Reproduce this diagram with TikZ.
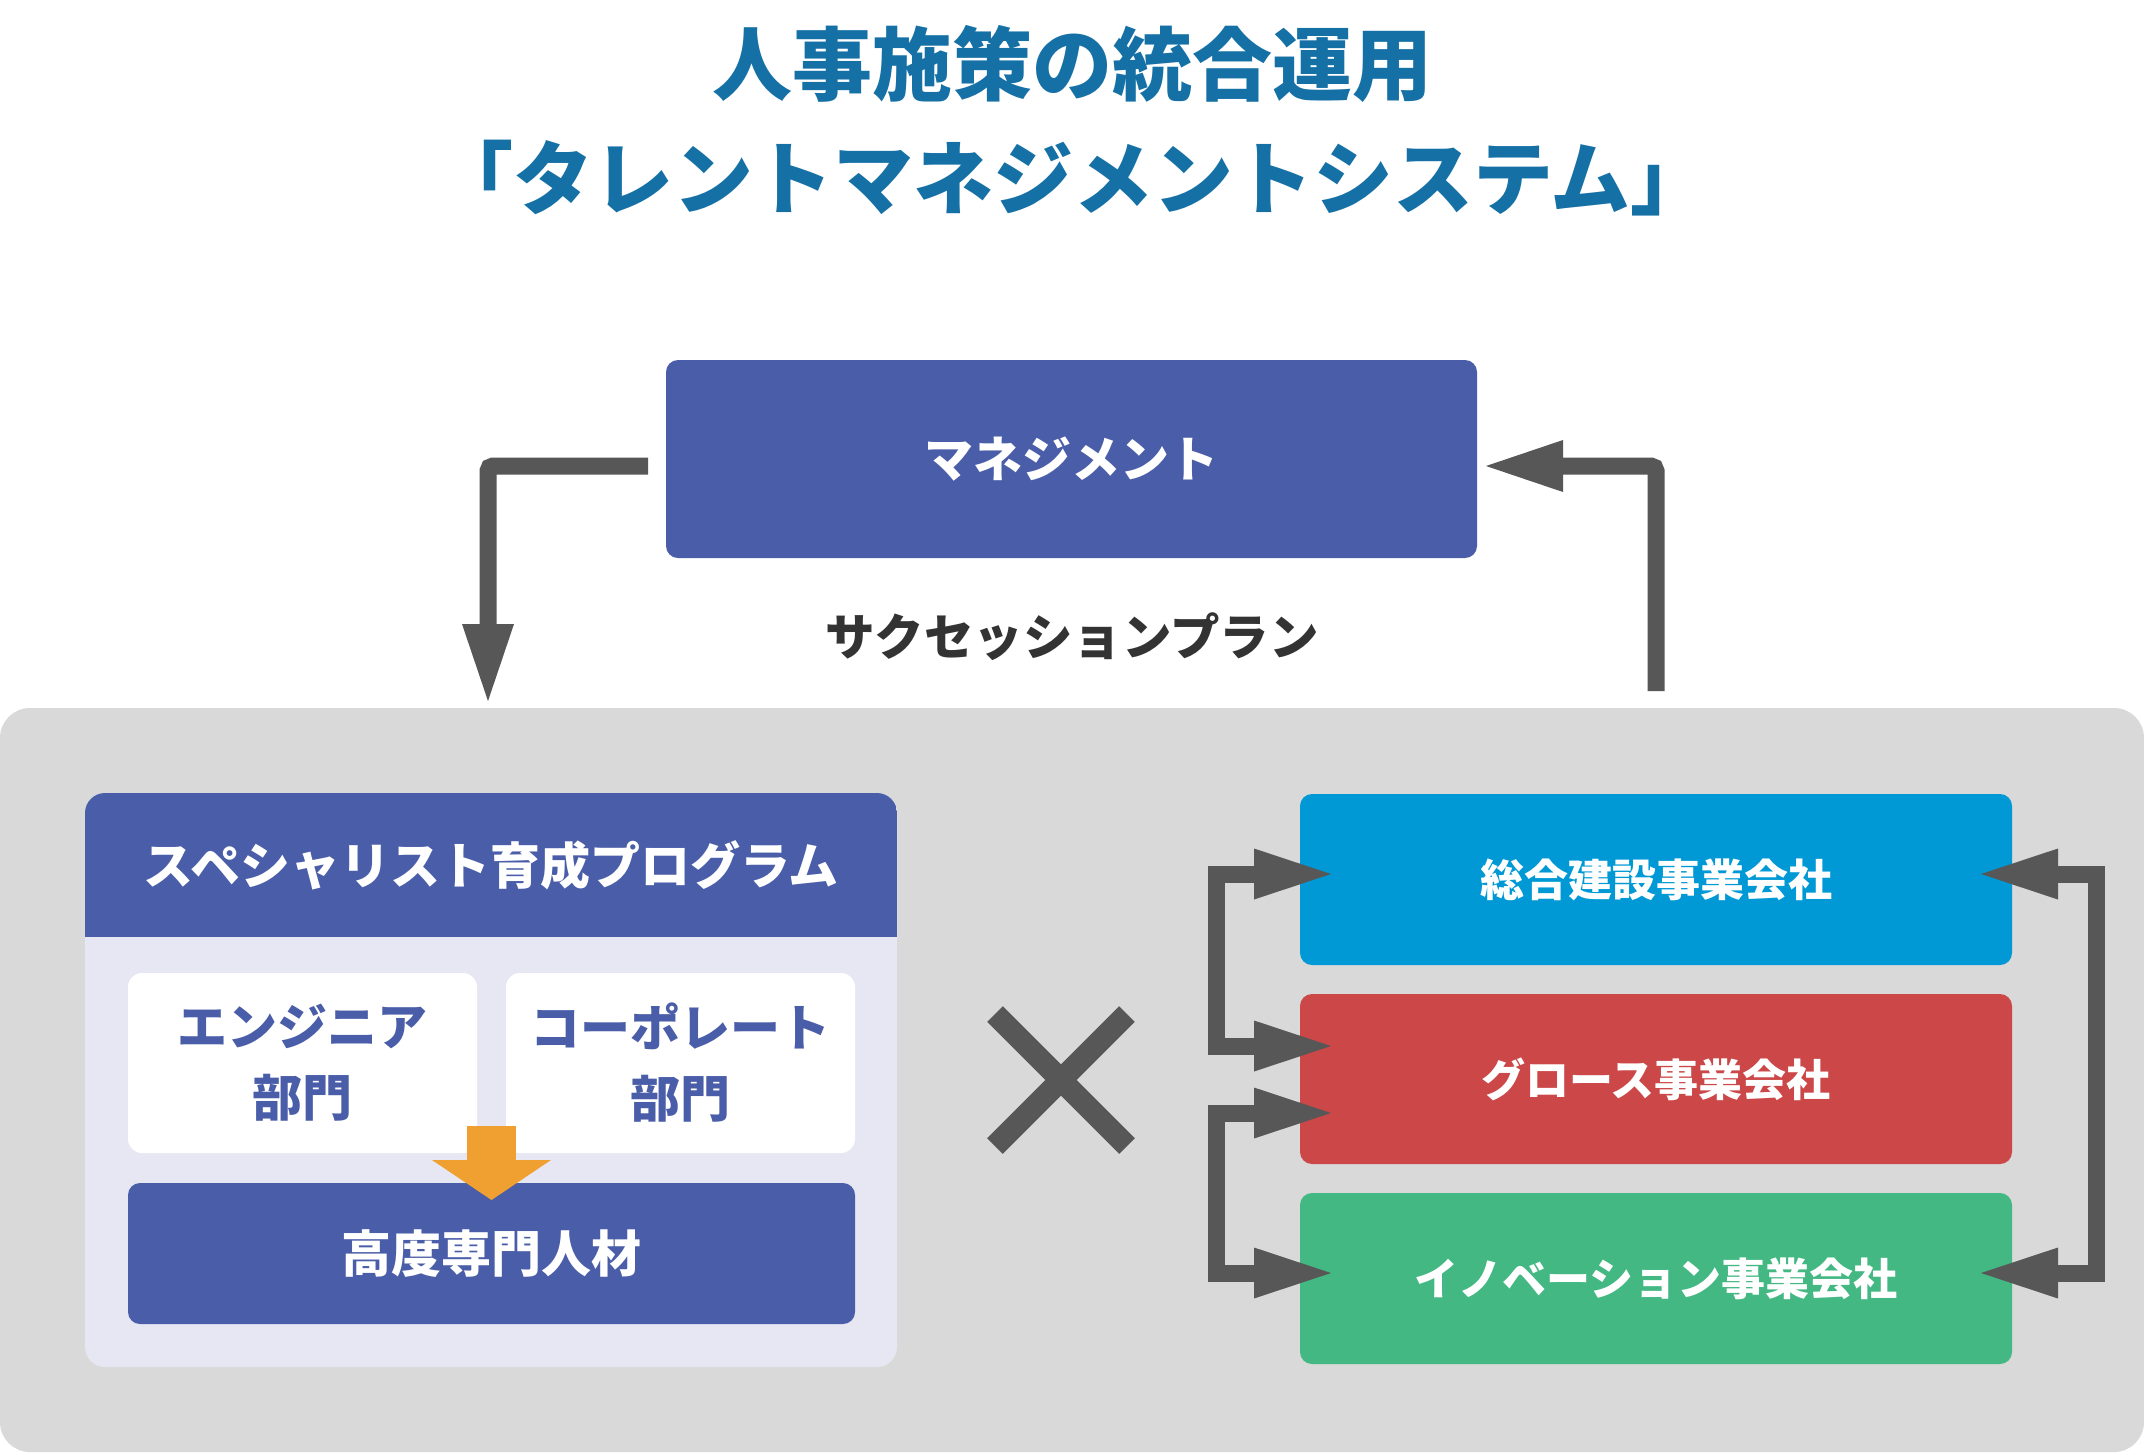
\documentclass[tikz,border=0pt]{standalone}
\usepackage{fontspec}
\setmainfont{Noto Sans CJK JP}
\usetikzlibrary{arrows.meta,calc}
\definecolor{titleblue}{HTML}{1570A6}
\definecolor{navy}{HTML}{4A5DA8}
\definecolor{lav}{HTML}{E6E7F3}
\definecolor{bggray}{HTML}{D9D9D9}
\definecolor{agray}{HTML}{575757}
\definecolor{cblue}{HTML}{0099D6}
\definecolor{cred}{HTML}{CB4748}
\definecolor{cgreen}{HTML}{43B883}
\definecolor{orng}{HTML}{F0A030}
\definecolor{txtdark}{HTML}{333333}
\begin{document}
\begin{tikzpicture}[x=1pt,y=-1pt,
  every node/.style={inner sep=0pt, outer sep=0pt},
  titletext/.style={text=titleblue, font=\bfseries\fontsize{80pt}{96pt}\selectfont},
  cbox/.style={rounded corners=12pt, text=white, minimum width=712pt, minimum height=171pt, font=\bfseries\fontsize{44pt}{52pt}\selectfont},
  wbox/.style={fill=white, rounded corners=14pt, minimum width=349pt, minimum height=180pt, text=navy, align=center, font=\bfseries\fontsize{50pt}{71pt}\selectfont},
  conn/.style={draw=agray, line width=17pt, rounded corners=5pt, -{Triangle[length=77pt,width=52pt,line width=0pt]}},
  bconn/.style={draw=agray, line width=17pt, line join=miter, {Triangle[length=77pt,width=51pt,line width=0pt]}-{Triangle[length=77pt,width=51pt,line width=0pt]}}
]
\useasboundingbox (0,0) rectangle (2144,1454);
\fill[white] (0,0) rectangle (2144,1454);
% title
\node[titletext] (t1) at (1072,64) {人事施策の統合運用};
\node[titletext] (t2) at (1072,178) {「タレントマネジメントシステム」};
% management
\node[fill=navy, rounded corners=12pt, minimum width=811pt, minimum height=198pt, text=white, font=\bfseries\fontsize{49pt}{56pt}\selectfont] (mgmt) at (1071.5,459) {マネジメント};
\node[text=txtdark, font=\bfseries\fontsize{49.5pt}{56pt}\selectfont] (succ) at (1072,637) {サクセッションプラン};
% gray background
\node[fill=bggray, rounded corners=30pt, minimum width=2144pt, minimum height=744pt] (bg) at (1072,1080) {};
% left panel
\node[fill=lav, rounded corners=20pt, minimum width=812pt, minimum height=574pt] (panel) at (491,1080) {};
\begin{scope}
\clip[rounded corners=20pt] (85,793) rectangle (897,1367);
\fill[navy] (85,793) rectangle (897,937);
\end{scope}
\node[text=white, font=\bfseries\fontsize{50pt}{56pt}\selectfont] (hdr) at (491,865) {スペシャリスト育成プログラム};
\node[wbox] (eng) at (302.5,1063) {エンジニア\\部門};
\node[wbox] (corp) at (680.5,1063) {コーポレート\\部門};
\node[fill=navy, rounded corners=12pt, minimum width=727pt, minimum height=141pt, text=white, font=\bfseries\fontsize{50pt}{56pt}\selectfont] (expert) at (491.5,1253.5) {高度専門人材};
\draw[orng, line width=49pt, -{Triangle[length=40pt,width=119pt,line width=0pt]}] ($(expert.north)+(0,-57)$) -- ($(expert.north)+(0,17)$);
% cross
\coordinate (cross) at (1061,1080);
\draw[agray, line width=22pt] ($(cross)+(-66,-66)$) -- ($(cross)+(66,66)$) ($(cross)+(-66,66)$) -- ($(cross)+(66,-66)$);
% companies
\node[cbox, fill=cblue] (c1) at (1656,879.5) {総合建設事業会社};
\node[cbox, fill=cred, minimum height=170pt] (c2) at (1656,1079) {グロース事業会社};
\node[cbox, fill=cgreen] (c3) at (1656,1278.5) {イノベーション事業会社};
% connectors
\draw[conn] ($(mgmt.west)+(-18,7)$) -| ($(bg.north west)+(488,-7)$);
\draw[conn] ($(c1.north)+(0,-103)$) |- ($(mgmt.east)+(9,7)$);
\draw[bconn] ($(c1.west)+(31,-5.5)$) -- ++(-115,0) |- ($(c2.west)+(31,-33)$);
\draw[bconn] ($(c2.west)+(31,34)$) -- ++(-115,0) |- ($(c3.west)+(31,-5.5)$);
\draw[bconn] ($(c1.east)+(-31,-5.5)$) -- ++(115,0) |- ($(c3.east)+(-31,-5.5)$);
\end{tikzpicture}
\end{document}
